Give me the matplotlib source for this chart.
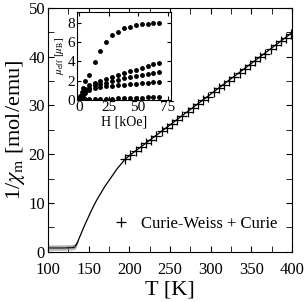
import numpy as np
import matplotlib
matplotlib.use('Agg')
import matplotlib.pyplot as plt
from matplotlib.ticker import MultipleLocator

plt.rcParams['font.family'] = ['Liberation Serif', 'DejaVu Serif']
plt.rcParams['mathtext.fontset'] = 'stix'

# main curve 1/chi vs T
T_line = [100, 110, 120, 130, 133, 136, 140, 145, 150, 155, 160, 165, 170,
          175, 180, 185, 190, 195, 200, 250, 300, 350, 400]
chi_inv = [0.8, 0.8, 0.8, 0.85, 1.0, 1.8, 3.4, 5.4, 7.2, 9.0, 10.6, 12.0, 13.4,
           14.6, 15.8, 17.0, 18.0, 19.0, 19.7, 26.0, 32.3, 38.6, 44.9]

# grey low-T curves
T_low = [100, 120, 130, 134, 137]
grey_a = [0.35, 0.35, 0.4, 0.6, 1.9]
grey_b = [0.55, 0.55, 0.6, 0.8, 2.0]
grey_c = [1.05, 1.05, 1.1, 1.3, 2.1]
grey_d = [1.2, 1.2, 1.25, 1.45, 2.2]

# Curie-Weiss + Curie fit points
T_fit = [195, 201, 208, 214, 221, 227, 233, 240, 246, 252, 259, 265, 272, 278,
         284, 291, 297, 304, 310, 316, 323, 329, 336, 342, 348, 355, 361, 367,
         374, 380, 387, 393, 399]
chi_fit = [19.0, 19.8, 20.6, 21.4, 22.3, 23.0, 23.8, 24.7, 25.4, 26.2, 27.1,
           27.8, 28.7, 29.4, 30.2, 31.1, 31.8, 32.7, 33.5, 34.2, 35.1, 35.9,
           36.7, 37.5, 38.3, 39.1, 39.9, 40.6, 41.5, 42.3, 43.2, 43.9, 44.7]

# inset: mu_eff vs H
H = [0.5, 1, 2, 3, 5, 8, 13, 18, 23, 28, 33, 38, 43, 48, 53, 58, 63, 68]
mu_1 = [0.2, 0.4, 0.8, 1.2, 2.0, 2.6, 3.9, 5.1, 6.0, 6.7, 7.05, 7.4, 7.6, 7.75,
        7.83, 7.9, 7.93, 7.95]
mu_2 = [0.15, 0.3, 0.55, 0.8, 1.15, 1.5, 1.8, 2.0, 2.2, 2.4, 2.6, 2.8, 3.0,
        3.15, 3.35, 3.5, 3.7, 3.85]
mu_3 = [0.12, 0.25, 0.45, 0.65, 0.95, 1.25, 1.5, 1.67, 1.8, 1.95, 2.1, 2.25,
        2.35, 2.5, 2.6, 2.7, 2.8, 2.9]
mu_4 = [0.1, 0.2, 0.35, 0.5, 0.75, 1.0, 1.2, 1.32, 1.4, 1.47, 1.53, 1.58, 1.63,
        1.68, 1.72, 1.77, 1.81, 1.85]
mu_5 = [0.01, 0.02, 0.03, 0.04, 0.05, 0.07, 0.09, 0.1, 0.12, 0.14, 0.16, 0.18,
        0.2, 0.22, 0.25, 0.28, 0.31, 0.34]

fig = plt.figure(figsize=(3.05, 3.02), dpi=100)
ax = fig.add_axes([0.157, 0.166, 0.8, 0.808])

for g in (grey_a, grey_b, grey_c, grey_d):
    ax.plot(T_low, g, color='#999999', lw=0.6)
ax.plot(T_line, chi_inv, color='black', lw=0.9)
ax.plot(T_fit, chi_fit, ls='none', marker='+', ms=7, mew=0.9, color='black',
        label='Curie-Weiss + Curie')

ax.set_xlim(100, 400)
ax.set_ylim(0, 50)
ax.xaxis.set_major_locator(MultipleLocator(50))
ax.xaxis.set_minor_locator(MultipleLocator(25))
ax.yaxis.set_major_locator(MultipleLocator(10))
ax.yaxis.set_minor_locator(MultipleLocator(5))
ax.tick_params(which='both', direction='in', top=True, right=True,
               labelsize=12, length=4)
ax.tick_params(axis='x', pad=7)
ax.tick_params(axis='y', pad=2)
ax.set_xlabel('T [K]', fontsize=16, labelpad=2)
ax.set_ylabel(r'1/$\chi_{\rm m}$ [mol/emu]', fontsize=16, labelpad=1)
ax.legend(loc='lower right', frameon=False, fontsize=12, handletextpad=0.6,
          handlelength=1.2, bbox_to_anchor=(1.0, 0.02))

ins = fig.add_axes([0.252, 0.669, 0.309, 0.291])
for m in (mu_1, mu_2, mu_3, mu_4, mu_5):
    ins.plot(H, m, ls='none', marker='o', ms=2.5, color='black')
ins.set_xlim(-2, 78)
ins.set_ylim(0, 9.1)
ins.xaxis.set_major_locator(MultipleLocator(25))
ins.yaxis.set_major_locator(MultipleLocator(2))
ins.tick_params(direction='in', top=True, right=True, labelsize=11, pad=1,
                length=3)
ins.set_xlabel('H [kOe]', fontsize=10, labelpad=1)
ins.set_ylabel(r'$\mu_{\rm eff}$ [$\mu_{\rm B}$]', fontsize=8, labelpad=1)

fig.savefig('out.png', dpi=100)
